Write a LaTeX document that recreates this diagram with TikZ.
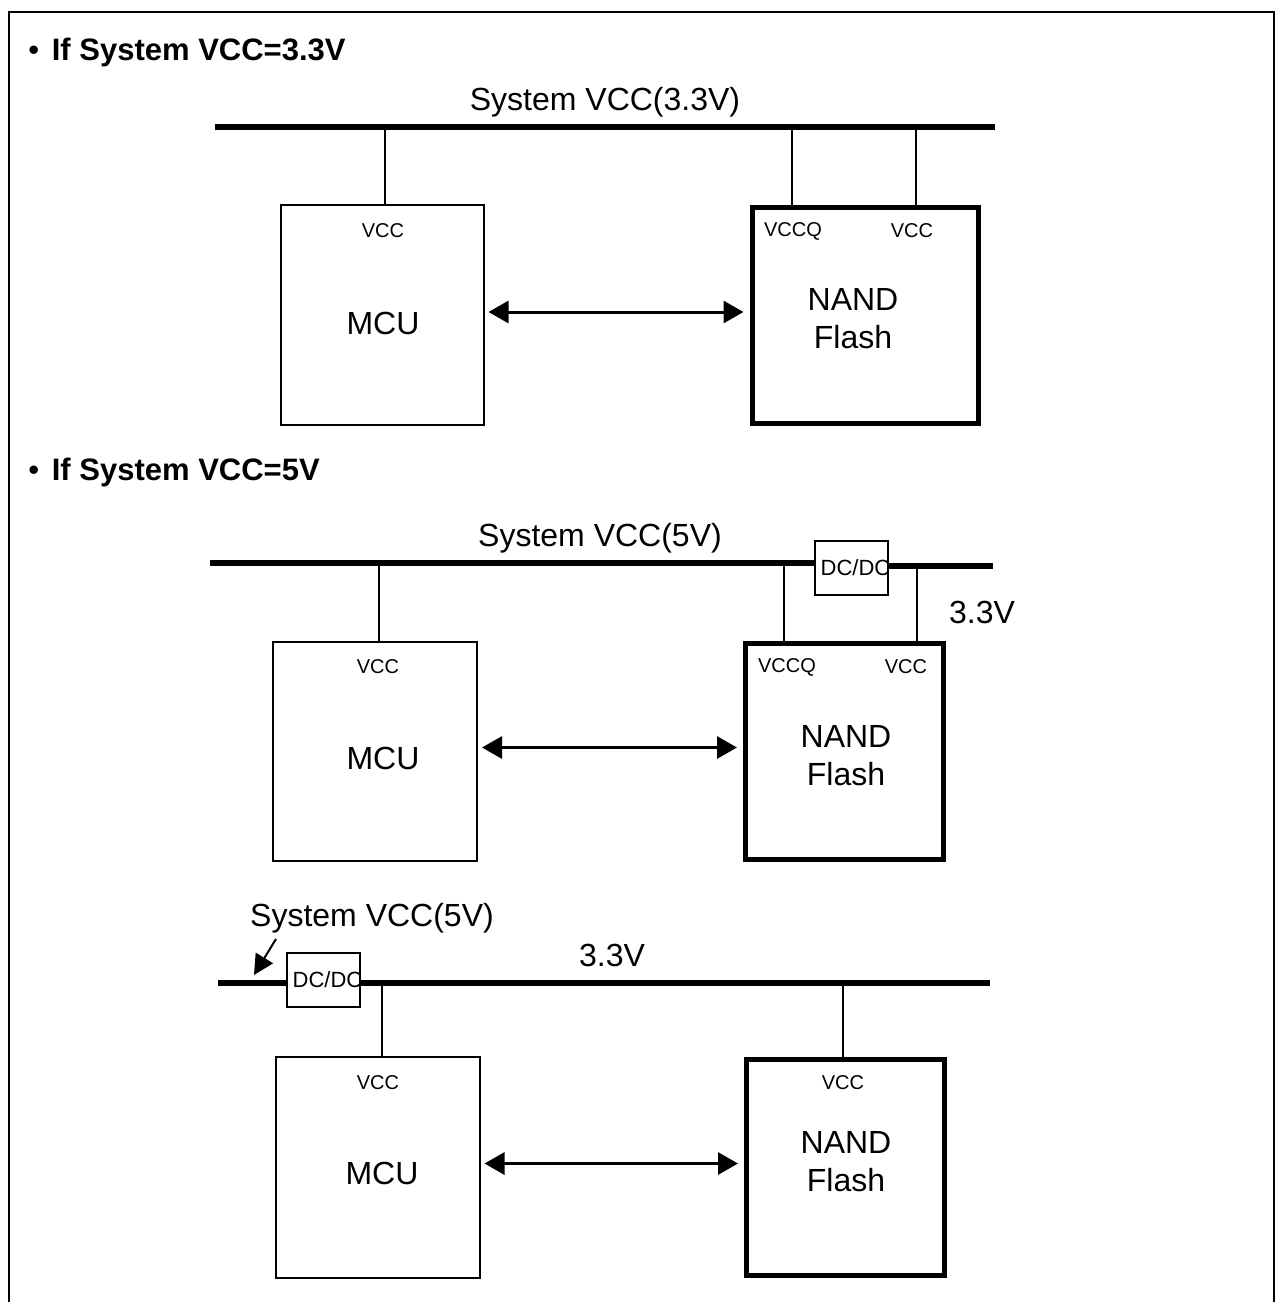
\documentclass[tikz,border=0pt]{standalone}
\usepackage{fontspec}
\setmainfont{Liberation Sans}
\usetikzlibrary{arrows.meta}

\tikzset{
  chip/.style={draw, line width=1pt, inner sep=0pt},
  nandchip/.style={draw, line width=2.5pt, inner sep=0pt},
  conv/.style={draw, line width=1pt, inner sep=0pt, minimum width=36.5pt, minimum height=27pt},
  convtxt/.style={inner sep=0pt, font=\fontsize{11}{12}\selectfont},
  bus/.style={line width=3pt},
  tap/.style={line width=1pt},
  bigtxt/.style={inner sep=0pt, font=\fontsize{16}{19}\selectfont, align=center},
  smalltxt/.style={inner sep=0pt, font=\fontsize{10}{12}\selectfont},
  headtxt/.style={inner sep=0pt, anchor=west, font=\fontsize{15.5}{18}\selectfont\bfseries},
  link/.style={line width=1.5pt, {Triangle[length=10pt,width=11pt]}-{Triangle[length=10pt,width=11pt]}}
}

\begin{document}
\begin{tikzpicture}[x=0.5pt,y=-0.5pt]
  \useasboundingbox (0,0) rectangle (1275,1302);
  % frame, open at the bottom
  \draw[line width=1pt] (8.5,1302) -- (8.5,12) -- (1273.5,12) -- (1273.5,1302);

  % case 1 : system vcc 3.3V
  \node[headtxt] (headA) at (28,52) {{\mdseries •}\hspace{2pt} If System VCC=3.3V};
  \node[bigtxt] (railA) at (605,102) {System VCC(3.3V)};
  \coordinate (busAl) at (215,127);
  \coordinate (busAr) at (995,127);
  \draw[bus] (busAl) -- (busAr);
  \node[chip, minimum width=101.5pt, minimum height=110pt] (mcuA) at (382,315) {};
  \node[nandchip, minimum width=113pt, minimum height=108pt] (nandA) at (865,315) {};
  \node[smalltxt] (mcuAvcc) at (383,231) {VCC};
  \node[bigtxt] (mcuAname) at (383,323) {MCU};
  \node[smalltxt] (nandAvccq) at (793,231) {VCCQ};
  \node[smalltxt] (nandAvcc) at (912,231) {VCC};
  \node[bigtxt] (nandAname) at (853,319) {NAND\\Flash};
  \coordinate (tapA1) at (385,127);
  \coordinate (tapA2) at (792,127);
  \coordinate (tapA3) at (916,127);
  \draw[tap] (tapA1) -- (tapA1 |- mcuA.north);
  \draw[tap] (tapA2) -- (tapA2 |- nandA.north);
  \draw[tap] (tapA3) -- (tapA3 |- nandA.north);
  \draw[link, shorten <=2pt, shorten >=3pt] ([yshift=1.5pt]mcuA.east) -- ([yshift=1.5pt]nandA.west);

  % case 2 : system vcc 5V, dc/dc in front of the vcc pin
  \node[headtxt] (headB) at (28,472) {{\mdseries •}\hspace{2pt} If System VCC=5V};
  \node[bigtxt] (railB) at (600,538) {System VCC(5V)};
  \node[conv] (convB) at (851.5,568) {};
  \node[convtxt] (convBtxt) at ([xshift=2pt]convB) {DC/DC};
  \coordinate (busBl) at (210,563);
  \coordinate (busBr) at (993,566);
  \draw[bus] (busBl) -- (busBl -| convB.west);
  \draw[bus] (busBr -| convB.east) -- (busBr);
  \node[bigtxt] (outB) at (982,612) {3.3V};
  \node[chip, minimum width=102pt, minimum height=109.5pt] (mcuB) at (375,751.5) {};
  \node[nandchip, minimum width=99pt, minimum height=108pt] (nandB) at (844.5,751.5) {};
  \node[smalltxt] (mcuBvcc) at (378,667) {VCC};
  \node[bigtxt] (mcuBname) at (383,758) {MCU};
  \node[smalltxt] (nandBvccq) at (787,667) {VCCQ};
  \node[smalltxt] (nandBvcc) at (906,667) {VCC};
  \node[bigtxt] (nandBname) at (846,756) {NAND\\Flash};
  \coordinate (tapB1) at (379,563);
  \coordinate (tapB2) at (784,563);
  \coordinate (tapB3) at (917,566);
  \draw[tap] (tapB1) -- (tapB1 |- mcuB.north);
  \draw[tap] (tapB2) -- (tapB2 |- nandB.north);
  \draw[tap] (tapB3) -- (tapB3 |- nandB.north);
  \draw[link, shorten <=2pt, shorten >=3pt] ([yshift=2pt]mcuB.east) -- ([yshift=2pt]nandB.west);

  % case 3 : system vcc 5V, dc/dc feeds the whole rail
  \node[bigtxt] (railC) at (372,918) {System VCC(5V)};
  \node[conv] (convC) at (323.5,980) {};
  \node[convtxt] (convCtxt) at ([xshift=2pt]convC) {DC/DC};
  \coordinate (busCl) at (218,983);
  \coordinate (busCr) at (990,983);
  \coordinate (pinC) at (276,939);
  \coordinate (pinCend) at (254,975);
  \draw[line width=1pt, -{Triangle[length=10pt,width=10pt]}] (pinC) -- (pinCend);
  \draw[bus] (busCl) -- (busCl -| convC.west);
  \draw[bus] (busCr -| convC.east) -- (busCr);
  \node[bigtxt] (outC) at (612,955) {3.3V};
  \node[chip, minimum width=102pt, minimum height=110.5pt] (mcuC) at (377.5,1167.5) {};
  \node[nandchip, minimum width=99pt, minimum height=108pt] (nandC) at (845.5,1167.5) {};
  \node[smalltxt] (mcuCvcc) at (378,1083) {VCC};
  \node[bigtxt] (mcuCname) at (382,1173) {MCU};
  \node[smalltxt] (nandCvcc) at (843,1083) {VCC};
  \node[bigtxt] (nandCname) at (846,1162) {NAND\\Flash};
  \coordinate (tapC1) at (382,983);
  \coordinate (tapC2) at (843,983);
  \draw[tap] (tapC1) -- (tapC1 |- mcuC.north);
  \draw[tap] (tapC2) -- (tapC2 |- nandC.north);
  \draw[link, shorten <=2pt, shorten >=3pt] ([yshift=2pt]mcuC.east) -- ([yshift=2pt]nandC.west);
\end{tikzpicture}
\end{document}
